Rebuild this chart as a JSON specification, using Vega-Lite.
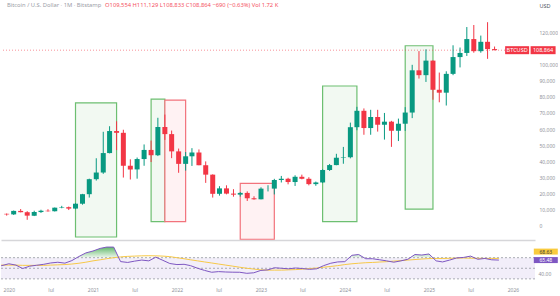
{
  "$schema": "https://vega.github.io/schema/vega-lite/v6.json",
  "padding": 0,
  "background": "#ffffff",
  "spacing": 1,
  "config": {
    "view": {"stroke": null},
    "font": "Noto Sans",
    "axis": {"grid": false, "labelFont": "Noto Sans", "titleFont": "Noto Sans", "labelOverlap": false, "labelSeparation": 0}
  },
  "datasets": {
    "candles": [
      {"d": "2019-12-01", "o": 7540, "h": 7750, "l": 6430, "c": 7190},
      {"d": "2020-01-01", "o": 7190, "h": 9580, "l": 6850, "c": 9350},
      {"d": "2020-02-01", "o": 9350, "h": 10500, "l": 8450, "c": 8540},
      {"d": "2020-03-01", "o": 8540, "h": 9180, "l": 3850, "c": 6410},
      {"d": "2020-04-01", "o": 6410, "h": 9460, "l": 6150, "c": 8630},
      {"d": "2020-05-01", "o": 8630, "h": 10080, "l": 8100, "c": 9450},
      {"d": "2020-06-01", "o": 9450, "h": 10400, "l": 8900, "c": 9140},
      {"d": "2020-07-01", "o": 9140, "h": 11450, "l": 8980, "c": 11340},
      {"d": "2020-08-01", "o": 11340, "h": 12480, "l": 10990, "c": 11650},
      {"d": "2020-09-01", "o": 11650, "h": 12050, "l": 9880, "c": 10780},
      {"d": "2020-10-01", "o": 10780, "h": 14100, "l": 10400, "c": 13800},
      {"d": "2020-11-01", "o": 13800, "h": 19900, "l": 13200, "c": 19700},
      {"d": "2020-12-01", "o": 19700, "h": 29300, "l": 17600, "c": 28990},
      {"d": "2021-01-01", "o": 28990, "h": 41950, "l": 28130, "c": 33110},
      {"d": "2021-02-01", "o": 33110, "h": 58330, "l": 32300, "c": 45160},
      {"d": "2021-03-01", "o": 45160, "h": 61780, "l": 44950, "c": 58800},
      {"d": "2021-04-01", "o": 58800, "h": 64850, "l": 47000, "c": 57700},
      {"d": "2021-05-01", "o": 57700, "h": 59600, "l": 30000, "c": 37300},
      {"d": "2021-06-01", "o": 37300, "h": 41300, "l": 28800, "c": 35040},
      {"d": "2021-07-01", "o": 35040, "h": 42400, "l": 29300, "c": 41460},
      {"d": "2021-08-01", "o": 41460, "h": 50500, "l": 37300, "c": 47100},
      {"d": "2021-09-01", "o": 47100, "h": 52900, "l": 39600, "c": 43820},
      {"d": "2021-10-01", "o": 43820, "h": 67000, "l": 43300, "c": 61300},
      {"d": "2021-11-01", "o": 61300, "h": 69000, "l": 53300, "c": 56900},
      {"d": "2021-12-01", "o": 56900, "h": 59100, "l": 42000, "c": 46210},
      {"d": "2022-01-01", "o": 46210, "h": 47950, "l": 32950, "c": 38470},
      {"d": "2022-02-01", "o": 38470, "h": 45800, "l": 34300, "c": 43160},
      {"d": "2022-03-01", "o": 43160, "h": 48200, "l": 37200, "c": 45510},
      {"d": "2022-04-01", "o": 45510, "h": 47400, "l": 37600, "c": 37630},
      {"d": "2022-05-01", "o": 37630, "h": 40000, "l": 26700, "c": 31790},
      {"d": "2022-06-01", "o": 31790, "h": 31980, "l": 17600, "c": 19930},
      {"d": "2022-07-01", "o": 19930, "h": 24650, "l": 18800, "c": 23300},
      {"d": "2022-08-01", "o": 23300, "h": 25200, "l": 19600, "c": 20050},
      {"d": "2022-09-01", "o": 20050, "h": 22800, "l": 18150, "c": 19420},
      {"d": "2022-10-01", "o": 19420, "h": 21000, "l": 18200, "c": 20490},
      {"d": "2022-11-01", "o": 20490, "h": 21450, "l": 15500, "c": 17170},
      {"d": "2022-12-01", "o": 17170, "h": 18400, "l": 16300, "c": 16540},
      {"d": "2023-01-01", "o": 16540, "h": 23950, "l": 16500, "c": 23130},
      {"d": "2023-02-01", "o": 23130, "h": 25250, "l": 21400, "c": 23150},
      {"d": "2023-03-01", "o": 23150, "h": 29200, "l": 19550, "c": 28480},
      {"d": "2023-04-01", "o": 28480, "h": 31000, "l": 26950, "c": 29250},
      {"d": "2023-05-01", "o": 29250, "h": 29850, "l": 25800, "c": 27220},
      {"d": "2023-06-01", "o": 27220, "h": 31400, "l": 24800, "c": 30470},
      {"d": "2023-07-01", "o": 30470, "h": 31800, "l": 28900, "c": 29230},
      {"d": "2023-08-01", "o": 29230, "h": 30200, "l": 25170, "c": 25940},
      {"d": "2023-09-01", "o": 25940, "h": 27500, "l": 24900, "c": 26970},
      {"d": "2023-10-01", "o": 26970, "h": 35200, "l": 26560, "c": 34660},
      {"d": "2023-11-01", "o": 34660, "h": 38400, "l": 34100, "c": 37720},
      {"d": "2023-12-01", "o": 37720, "h": 44700, "l": 37620, "c": 42270},
      {"d": "2024-01-01", "o": 42270, "h": 48970, "l": 38550, "c": 42580},
      {"d": "2024-02-01", "o": 42580, "h": 64000, "l": 41900, "c": 61180},
      {"d": "2024-03-01", "o": 61180, "h": 73800, "l": 59300, "c": 71330},
      {"d": "2024-04-01", "o": 71330, "h": 72800, "l": 56500, "c": 60650},
      {"d": "2024-05-01", "o": 60650, "h": 71950, "l": 56500, "c": 67500},
      {"d": "2024-06-01", "o": 67500, "h": 71950, "l": 58450, "c": 62700},
      {"d": "2024-07-01", "o": 62700, "h": 70000, "l": 53500, "c": 64600},
      {"d": "2024-08-01", "o": 64600, "h": 65100, "l": 49000, "c": 58970},
      {"d": "2024-09-01", "o": 58970, "h": 66500, "l": 52600, "c": 63330},
      {"d": "2024-10-01", "o": 63330, "h": 73600, "l": 58900, "c": 70250},
      {"d": "2024-11-01", "o": 70250, "h": 99800, "l": 66800, "c": 96400},
      {"d": "2024-12-01", "o": 96400, "h": 108300, "l": 91300, "c": 93400},
      {"d": "2025-01-01", "o": 93400, "h": 109400, "l": 89200, "c": 102400},
      {"d": "2025-02-01", "o": 102400, "h": 102500, "l": 78200, "c": 84350},
      {"d": "2025-03-01", "o": 84350, "h": 95000, "l": 76600, "c": 82550},
      {"d": "2025-04-01", "o": 82550, "h": 95800, "l": 74600, "c": 94200},
      {"d": "2025-05-01", "o": 94200, "h": 111900, "l": 93400, "c": 104600},
      {"d": "2025-06-01", "o": 104600, "h": 110500, "l": 98200, "c": 107150},
      {"d": "2025-07-01", "o": 107150, "h": 123200, "l": 105300, "c": 115750},
      {"d": "2025-08-01", "o": 115750, "h": 124450, "l": 107300, "c": 108250},
      {"d": "2025-09-01", "o": 108250, "h": 117900, "l": 107300, "c": 114050},
      {"d": "2025-10-01", "o": 114050, "h": 126200, "l": 103500, "c": 109554},
      {"d": "2025-11-01", "o": 109554, "h": 111129, "l": 108833, "c": 108864}
    ],
    "rsi": [
      {"d": "2019-11-01", "rsi": 55, "ma": 56.5},
      {"d": "2019-12-01", "rsi": 55, "ma": 56},
      {"d": "2020-01-01", "rsi": 58.5, "ma": 56},
      {"d": "2020-02-01", "rsi": 56, "ma": 56},
      {"d": "2020-03-01", "rsi": 49.5, "ma": 55.5},
      {"d": "2020-04-01", "rsi": 54, "ma": 55.5},
      {"d": "2020-05-01", "rsi": 55.7, "ma": 55.5},
      {"d": "2020-06-01", "rsi": 57.5, "ma": 55.5},
      {"d": "2020-07-01", "rsi": 60, "ma": 56},
      {"d": "2020-08-01", "rsi": 61.4, "ma": 56.5},
      {"d": "2020-09-01", "rsi": 59.7, "ma": 57},
      {"d": "2020-10-01", "rsi": 64.5, "ma": 58},
      {"d": "2020-11-01", "rsi": 72.3, "ma": 59.5},
      {"d": "2020-12-01", "rsi": 79, "ma": 61.5},
      {"d": "2021-01-01", "rsi": 82.6, "ma": 64},
      {"d": "2021-02-01", "rsi": 87.5, "ma": 66},
      {"d": "2021-03-01", "rsi": 90, "ma": 68},
      {"d": "2021-04-01", "rsi": 90, "ma": 70},
      {"d": "2021-05-01", "rsi": 62.6, "ma": 71.5},
      {"d": "2021-06-01", "rsi": 61, "ma": 72.5},
      {"d": "2021-07-01", "rsi": 63.5, "ma": 73},
      {"d": "2021-08-01", "rsi": 65.5, "ma": 73.5},
      {"d": "2021-09-01", "rsi": 64, "ma": 73.7},
      {"d": "2021-10-01", "rsi": 71, "ma": 73.5},
      {"d": "2021-11-01", "rsi": 65, "ma": 73},
      {"d": "2021-12-01", "rsi": 59, "ma": 72},
      {"d": "2022-01-01", "rsi": 57, "ma": 70},
      {"d": "2022-02-01", "rsi": 57.5, "ma": 68},
      {"d": "2022-03-01", "rsi": 55, "ma": 66},
      {"d": "2022-04-01", "rsi": 50, "ma": 64},
      {"d": "2022-05-01", "rsi": 46, "ma": 62},
      {"d": "2022-06-01", "rsi": 42.5, "ma": 60},
      {"d": "2022-07-01", "rsi": 43.7, "ma": 58},
      {"d": "2022-08-01", "rsi": 43, "ma": 56},
      {"d": "2022-09-01", "rsi": 42.6, "ma": 54},
      {"d": "2022-10-01", "rsi": 42.5, "ma": 52},
      {"d": "2022-11-01", "rsi": 40.5, "ma": 50},
      {"d": "2022-12-01", "rsi": 41.5, "ma": 48.5},
      {"d": "2023-01-01", "rsi": 46, "ma": 47},
      {"d": "2023-02-01", "rsi": 47, "ma": 46.5},
      {"d": "2023-03-01", "rsi": 51, "ma": 46.5},
      {"d": "2023-04-01", "rsi": 50, "ma": 46.5},
      {"d": "2023-05-01", "rsi": 49, "ma": 47},
      {"d": "2023-06-01", "rsi": 50.5, "ma": 47.5},
      {"d": "2023-07-01", "rsi": 49.5, "ma": 48.3},
      {"d": "2023-08-01", "rsi": 48, "ma": 49.5},
      {"d": "2023-09-01", "rsi": 49, "ma": 50.5},
      {"d": "2023-10-01", "rsi": 55, "ma": 52},
      {"d": "2023-11-01", "rsi": 59.5, "ma": 53.5},
      {"d": "2023-12-01", "rsi": 62, "ma": 55},
      {"d": "2024-01-01", "rsi": 62.5, "ma": 57},
      {"d": "2024-02-01", "rsi": 74.5, "ma": 58.5},
      {"d": "2024-03-01", "rsi": 76, "ma": 59.5},
      {"d": "2024-04-01", "rsi": 68, "ma": 60.5},
      {"d": "2024-05-01", "rsi": 68, "ma": 61},
      {"d": "2024-06-01", "rsi": 66, "ma": 61.8},
      {"d": "2024-07-01", "rsi": 64, "ma": 62.5},
      {"d": "2024-08-01", "rsi": 61.5, "ma": 63.5},
      {"d": "2024-09-01", "rsi": 64, "ma": 64.5},
      {"d": "2024-10-01", "rsi": 67, "ma": 65.5},
      {"d": "2024-11-01", "rsi": 76, "ma": 66.5},
      {"d": "2024-12-01", "rsi": 75, "ma": 67.5},
      {"d": "2025-01-01", "rsi": 77, "ma": 68.3},
      {"d": "2025-02-01", "rsi": 64, "ma": 68.5},
      {"d": "2025-03-01", "rsi": 62, "ma": 68.5},
      {"d": "2025-04-01", "rsi": 65.5, "ma": 68.8},
      {"d": "2025-05-01", "rsi": 69.5, "ma": 69.2},
      {"d": "2025-06-01", "rsi": 70.5, "ma": 69.4},
      {"d": "2025-07-01", "rsi": 73, "ma": 69},
      {"d": "2025-08-01", "rsi": 67, "ma": 68.8},
      {"d": "2025-09-01", "rsi": 68.5, "ma": 68.6},
      {"d": "2025-10-01", "rsi": 66, "ma": 68.6},
      {"d": "2025-11-01", "rsi": 65.48, "ma": 68.63}
    ],
    "zones": [
      {"start": "2020-10-01", "end": "2021-04-01", "top": 76300, "bottom": -6800, "kind": "bullish"},
      {"start": "2021-09-01", "end": "2021-11-01", "top": 78600, "bottom": 2660, "kind": "bullish"},
      {"start": "2021-11-01", "end": "2022-02-01", "top": 78000, "bottom": 2660, "kind": "bearish"},
      {"start": "2022-10-01", "end": "2023-03-01", "top": 26400, "bottom": -8200, "kind": "bearish"},
      {"start": "2023-10-01", "end": "2024-03-01", "top": 86700, "bottom": 2660, "kind": "bullish"},
      {"start": "2024-10-01", "end": "2025-02-01", "top": 111600, "bottom": 10500, "kind": "bullish"}
    ]
  },
  "vconcat": [
    {
      "width": 534,
      "height": 240,
      "layer": [
        {
          "data": {"name": "zones"},
          "mark": {"type": "rect", "strokeWidth": 1.2},
          "encoding": {
            "x": {
              "field": "start", "type": "temporal",
              "scale": {"type": "utc", "domain": [{"year": 2019, "month": 11, "date": 28, "utc": true}, {"year": 2026, "month": 4, "date": 7, "utc": true}]},
              "axis": {"orient": "bottom", "labels": false, "ticks": false, "domain": true, "domainColor": "#D6D6D9", "domainWidth": 1.5, "title": null, "grid": false}
            },
            "x2": {"field": "end"},
            "y": {
              "field": "top", "type": "quantitative",
              "scale": {"domain": [-8669, 139938], "nice": false, "zero": false},
              "axis": {
                "orient": "right",
                "values": [0, 10000, 20000, 30000, 40000, 50000, 60000, 70000, 80000, 90000, 100000, 120000],
                "tickCount": 30,
                "labelExpr": "format(datum.value, ',')",
                "labelOverlap": false,
                "labelFontSize": 5,
                "labelColor": "#8f939c",
                "labelAlign": "left",
                "labelBaseline": "middle",
                "labelPadding": 4,
                "ticks": false,
                "domain": false,
                "grid": false,
                "title": "USD",
                "titleAngle": 0,
                "titleAlign": "left",
                "titleBaseline": "middle",
                "titleX": 4,
                "titleY": 5,
                "titleFontSize": 5.5,
                "titleFontWeight": "normal",
                "titleColor": "#50535e"
              }
            },
            "y2": {"field": "bottom"},
            "fill": {"field": "kind", "type": "nominal", "scale": {"domain": ["bullish", "bearish"], "range": ["#F2F9F2", "#FFF2F3"]}, "legend": null},
            "stroke": {"field": "kind", "type": "nominal", "scale": {"domain": ["bullish", "bearish"], "range": ["#6DBF71", "#F2737C"]}, "legend": null}
          }
        },
        {
          "data": {"values": [{"last": 108864}]},
          "mark": {"type": "rule", "color": "#F23645", "strokeDash": [1, 2], "strokeWidth": 1, "opacity": 0.55},
          "encoding": {"y": {"field": "last", "type": "quantitative"}}
        },
        {
          "data": {"name": "candles"},
          "mark": {"type": "rule", "strokeWidth": 1, "clip": true},
          "encoding": {
            "x": {"field": "d", "type": "temporal"},
            "y": {"field": "l", "type": "quantitative"},
            "y2": {"field": "h"},
            "color": {"condition": {"test": "datum.c >= datum.o", "value": "#089981"}, "value": "#F23645"}
          }
        },
        {
          "data": {"name": "candles"},
          "mark": {"type": "bar", "size": 5, "clip": true},
          "encoding": {
            "x": {"field": "d", "type": "temporal"},
            "y": {"field": "o", "type": "quantitative"},
            "y2": {"field": "c"},
            "color": {"condition": {"test": "datum.c >= datum.o", "value": "#089981"}, "value": "#F23645"}
          }
        },
        {
          "data": {"values": [{"symbol": "BTCUSD", "price": 108864}]},
          "layer": [
            {
              "mark": {"type": "tick", "orient": "horizontal", "size": 24, "thickness": 8, "color": "#F23645", "opacity": 1},
              "encoding": {"x": {"datum": {"year": 2026, "month": 2, "date": 9, "utc": true}, "type": "temporal"}, "y": {"field": "price", "type": "quantitative"}}
            },
            {
              "mark": {"type": "text", "color": "#ffffff", "fontSize": 5.5, "align": "center", "baseline": "middle"},
              "encoding": {"x": {"datum": {"year": 2026, "month": 2, "date": 9, "utc": true}, "type": "temporal"}, "y": {"field": "price", "type": "quantitative"}, "text": {"field": "symbol"}}
            },
            {
              "mark": {"type": "tick", "orient": "horizontal", "size": 25, "thickness": 8, "color": "#F23645", "opacity": 1},
              "encoding": {"x": {"datum": {"year": 2026, "month": 6, "date": 4, "utc": true}, "type": "temporal"}, "y": {"field": "price", "type": "quantitative"}}
            },
            {
              "mark": {"type": "text", "color": "#ffffff", "fontSize": 5.5, "align": "center", "baseline": "middle"},
              "encoding": {"x": {"datum": {"year": 2026, "month": 6, "date": 4, "utc": true}, "type": "temporal"}, "y": {"field": "price", "type": "quantitative"}, "text": {"field": "price", "type": "quantitative", "format": ","}}
            }
          ]
        },
        {
          "data": {"values": [{"name": "Bitcoin / U.S. Dollar · 1M · Bitstamp", "ohlc": "O109,554 H111,129 L108,833 C108,864 −690 (−0.63%) Vol 1.72 K"}]},
          "layer": [
            {
              "mark": {"type": "text", "color": "#9a9da6", "fontSize": 5.8, "align": "left", "baseline": "middle"},
              "encoding": {"x": {"datum": {"year": 2019, "month": 12, "date": 2, "utc": true}, "type": "temporal"}, "y": {"datum": 136800, "type": "quantitative"}, "text": {"field": "name"}}
            },
            {
              "mark": {"type": "text", "color": "#F4525F", "fontSize": 5.8, "align": "left", "baseline": "middle"},
              "encoding": {"x": {"datum": {"year": 2021, "month": 2, "date": 9, "utc": true}, "type": "temporal"}, "y": {"datum": 136800, "type": "quantitative"}, "text": {"field": "ohlc"}}
            }
          ]
        }
      ]
    },
    {
      "width": 534,
      "height": 41,
      "layer": [
        {
          "data": {"name": "rsi"},
          "mark": {
            "type": "area", "clip": true, "interpolate": "linear",
            "color": {"gradient": "linear", "x1": 0, "y1": 0, "x2": 0, "y2": 1, "stops": [{"offset": 0, "color": "rgba(56,166,70,0.8)"}, {"offset": 0.42, "color": "rgba(76,175,80,0.08)"}, {"offset": 1, "color": "rgba(76,175,80,0)"}]}
          },
          "encoding": {
            "x": {
              "field": "d", "type": "temporal",
              "scale": {"type": "utc", "domain": [{"year": 2019, "month": 11, "date": 28, "utc": true}, {"year": 2026, "month": 4, "date": 7, "utc": true}]},
              "axis": {
                "orient": "bottom",
                "values": [
                  {"year": 2020, "month": 1, "date": 1, "utc": true}, {"year": 2020, "month": 7, "date": 1, "utc": true},
                  {"year": 2021, "month": 1, "date": 1, "utc": true}, {"year": 2021, "month": 7, "date": 1, "utc": true},
                  {"year": 2022, "month": 1, "date": 1, "utc": true}, {"year": 2022, "month": 7, "date": 1, "utc": true},
                  {"year": 2023, "month": 1, "date": 1, "utc": true}, {"year": 2023, "month": 7, "date": 1, "utc": true},
                  {"year": 2024, "month": 1, "date": 1, "utc": true}, {"year": 2024, "month": 7, "date": 1, "utc": true},
                  {"year": 2025, "month": 1, "date": 1, "utc": true}, {"year": 2025, "month": 7, "date": 1, "utc": true},
                  {"year": 2026, "month": 1, "date": 1, "utc": true}
                ],
                "tickCount": 30,
                "labelExpr": "utcmonth(datum.value) == 0 ? utcFormat(datum.value, '%Y') : utcFormat(datum.value, '%b')",
                "labelFontSize": 5,
                "labelColor": "#8f939c",
                "labelPadding": 5,
                "labelFlush": false,
                "labelOverlap": false,
                "ticks": false,
                "domain": false,
                "grid": false,
                "title": null
              }
            },
            "y": {
              "field": "rsi", "type": "quantitative",
              "scale": {"domain": [24.1, 101.5], "nice": false, "zero": false},
              "axis": {
                "orient": "right", "values": [40], "labelExpr": "format(datum.value, '.2f')",
                "labelFontSize": 5, "labelColor": "#8f939c", "labelAlign": "left", "labelBaseline": "middle", "labelPadding": 3,
                "ticks": false, "domain": false, "grid": false, "title": null
              }
            },
            "y2": {"datum": 70}
          }
        },
        {
          "data": {"values": [{"upper": 70, "lower": 30}]},
          "mark": {"type": "rect", "color": "#F2EEF9"},
          "encoding": {"y": {"field": "upper", "type": "quantitative"}, "y2": {"field": "lower"}}
        },
        {
          "data": {"values": [{"level": 70}, {"level": 50}, {"level": 30}]},
          "mark": {"type": "rule", "strokeDash": [2, 2], "color": "#9598A1", "strokeWidth": 0.8},
          "encoding": {"y": {"field": "level", "type": "quantitative"}}
        },
        {
          "data": {"name": "rsi"},
          "mark": {"type": "line", "clip": true, "color": "#F7C948", "strokeWidth": 1},
          "encoding": {"x": {"field": "d", "type": "temporal"}, "y": {"field": "ma", "type": "quantitative"}}
        },
        {
          "data": {"name": "rsi"},
          "mark": {"type": "line", "clip": true, "color": "#7E57C2", "strokeWidth": 1},
          "encoding": {"x": {"field": "d", "type": "temporal"}, "y": {"field": "rsi", "type": "quantitative"}}
        },
        {
          "data": {"values": [{"rsi": 65.48, "ma": 68.63}]},
          "layer": [
            {
              "mark": {"type": "tick", "orient": "horizontal", "size": 24, "thickness": 6, "color": "#F9CB3E", "opacity": 1},
              "encoding": {"x": {"datum": {"year": 2026, "month": 5, "date": 24, "utc": true}, "type": "temporal"}, "y": {"datum": 81.5, "type": "quantitative"}}
            },
            {
              "mark": {"type": "text", "color": "#3b3b3b", "fontSize": 5, "align": "center", "baseline": "middle"},
              "encoding": {"x": {"datum": {"year": 2026, "month": 5, "date": 24, "utc": true}, "type": "temporal"}, "y": {"datum": 81.5, "type": "quantitative"}, "text": {"field": "ma", "type": "quantitative", "format": ".2f"}}
            },
            {
              "mark": {"type": "tick", "orient": "horizontal", "size": 24, "thickness": 6, "color": "#7E57C2", "opacity": 1},
              "encoding": {"x": {"datum": {"year": 2026, "month": 5, "date": 24, "utc": true}, "type": "temporal"}, "y": {"field": "rsi", "type": "quantitative"}}
            },
            {
              "mark": {"type": "text", "color": "#ffffff", "fontSize": 5, "align": "center", "baseline": "middle"},
              "encoding": {"x": {"datum": {"year": 2026, "month": 5, "date": 24, "utc": true}, "type": "temporal"}, "y": {"field": "rsi", "type": "quantitative"}, "text": {"field": "rsi", "type": "quantitative", "format": ".2f"}}
            }
          ]
        }
      ]
    }
  ]
}
